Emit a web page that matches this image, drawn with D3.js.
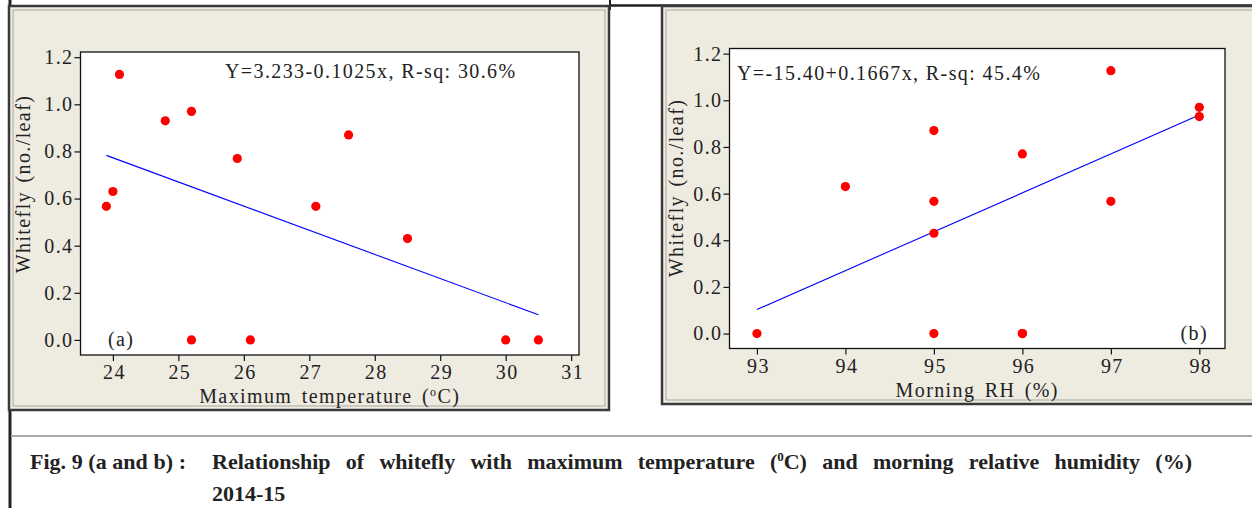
<!DOCTYPE html>
<html>
<head>
<meta charset="utf-8">
<script src="https://cdn.jsdelivr.net/npm/d3@7"></script>
<style>
  body { margin: 0; background: #fff; }
  svg text { font-family: "Liberation Serif", "Times New Roman", serif; fill: #222; }
  .chart-text { font-size: 20px; letter-spacing: 1.4px; }
</style>
</head>
<body>
<script>
// whitefly counts (no./leaf) against weather, 2014-15
var maxTemp   = [23.9, 24.0, 24.1, 24.8, 25.2, 25.2, 25.9, 26.1, 27.1, 27.6, 28.5, 30.0, 30.5];
var flyByTemp = [0.567, 0.63, 1.127, 0.93, 0.97, 0.0, 0.77, 0.0, 0.567, 0.87, 0.43, 0.0, 0.0];

var morningRH = [93, 94, 95, 95, 95, 95, 96, 96, 96, 97, 97, 98, 98];
var flyByRH   = [0.0, 0.63, 0.87, 0.567, 0.43, 0.0, 0.77, 0.0, 0.0, 1.127, 0.567, 0.97, 0.93];

var yTicks    = [0, 0.2, 0.4, 0.6, 0.8, 1.0, 1.2];
var tempTicks = [24, 25, 26, 27, 28, 29, 30, 31];
var rhTicks   = [93, 94, 95, 96, 97, 98];

// fitted lines: Y = a + b*x
var fitTemp = { a: 3.233, b: -0.1025, label: "Y=3.233-0.1025x, R-sq: 30.6%" };
var fitRH   = { a: -15.40, b: 0.1667, label: "Y=-15.40+0.1667x, R-sq: 45.4%" };

var width = 1252, height = 508;

var svg = d3.select("body").append("svg")
    .attr("width", width)
    .attr("height", height);

// table lines round the figure
svg.append("line").attr("x1", 10).attr("x2", 10).attr("y1", 0).attr("y2", height)
    .attr("stroke", "#222").attr("stroke-width", 3);
svg.append("line").attr("x1", 609).attr("x2", width).attr("y1", 5.5).attr("y2", 5.5)
    .attr("stroke", "#222").attr("stroke-width", 2.5);
svg.append("line").attr("x1", 610).attr("x2", 610).attr("y1", 0).attr("y2", 10)
    .attr("stroke", "#222").attr("stroke-width", 2);
svg.append("line").attr("x1", 11).attr("x2", width).attr("y1", 436).attr("y2", 436)
    .attr("stroke", "#aaa").attr("stroke-width", 2);

function drawPanel(p) {
    // panel frame
    svg.append("rect")
        .attr("x", p.box[0]).attr("y", p.box[1])
        .attr("width", p.box[2]).attr("height", p.box[3])
        .attr("fill", "#eeebe1")
        .attr("stroke", "#3a3a3a").attr("stroke-width", 2.5);
    svg.append("rect")
        .attr("x", p.box[0] + 4).attr("y", p.box[1] + 4)
        .attr("width", p.box[2] - 8).attr("height", p.box[3] - 8)
        .attr("fill", "none")
        .attr("stroke", "#9a9890").attr("stroke-width", 0.8);

    var x = d3.scaleLinear().domain(p.xDomain).range([p.left, p.right]);
    var y = d3.scaleLinear().domain([-0.064, 1.222]).range([p.bottom, p.top]);

    var g = svg.append("g");

    g.append("rect")
        .attr("x", p.left).attr("y", p.top)
        .attr("width", p.right - p.left).attr("height", p.bottom - p.top)
        .attr("fill", "#fff")
        .attr("stroke", "#111").attr("stroke-width", 1.3);

    var yAxis = g.append("g")
        .attr("transform", "translate(" + p.left + ",0)")
        .call(d3.axisLeft(y).tickValues(yTicks).tickFormat(d3.format(".1f")).tickSize(6).tickPadding(1));
    var xAxis = g.append("g")
        .attr("transform", "translate(0," + p.bottom + ")")
        .call(d3.axisBottom(x).tickValues(p.xTicks).tickFormat(d3.format("d")).tickSize(6).tickPadding(4));

    [yAxis, xAxis].forEach(function(ax) {
        ax.attr("font-size", null).attr("font-family", null);
        ax.select(".domain").remove();
        ax.selectAll(".tick line").attr("stroke", "#111").attr("stroke-width", 1.2);
        ax.selectAll(".tick text")
            .attr("class", "chart-text")
            .attr("fill", "#222");
    });
    xAxis.selectAll(".tick text").attr("dx", 1);

    // regression line over the observed range
    var xs = d3.extent(p.xs);
    g.append("line")
        .attr("x1", x(xs[0])).attr("y1", y(p.fit.a + p.fit.b * xs[0]))
        .attr("x2", x(xs[1])).attr("y2", y(p.fit.a + p.fit.b * xs[1]))
        .attr("stroke", "#0000ff").attr("stroke-width", 1.1);

    g.selectAll(".dot")
        .data(p.xs.map(function(v, i) { return [v, p.ys[i]]; }))
        .enter().append("circle")
        .attr("class", "dot")
        .attr("cx", function(d) { return x(d[0]); })
        .attr("cy", function(d) { return y(d[1]); })
        .attr("r", 4.6)
        .attr("fill", "#ff0000");

    g.append("text")
        .attr("class", "chart-text")
        .attr("x", p.eqX).attr("y", p.eqY)
        .text(p.fit.label);

    g.append("text")
        .attr("class", "chart-text")
        .attr("x", p.tagX).attr("y", y(0) + 6)
        .attr("text-anchor", p.tagAnchor)
        .text(p.tag);

    var xl = g.append("text")
        .attr("class", "chart-text")
        .attr("x", (p.left + p.right) / 2).attr("y", p.xLabelY)
        .attr("text-anchor", "middle")
        .style("word-spacing", "3px");
    p.xLabel(xl);

    g.append("text")
        .attr("class", "chart-text")
        .attr("transform", "translate(" + p.yLabelX + "," + p.yLabelY + ") rotate(-90)")
        .attr("text-anchor", "middle")
        .style("word-spacing", "2px")
        .text("Whitefly (no./leaf)");
}

drawPanel({
    box: [9, 6, 600, 404],
    left: 80.5, right: 579, top: 52, bottom: 355,
    xDomain: [23.505, 31.12], xTicks: tempTicks,
    xs: maxTemp, ys: flyByTemp, fit: fitTemp,
    eqX: 225, eqY: 78,
    tag: "(a)", tagX: 108, tagAnchor: "start",
    xLabelY: 403, yLabelX: 30, yLabelY: 184,
    xLabel: function(t) {
        t.append("tspan").text("Maximum temperature (");
        t.append("tspan").attr("dy", -7).style("font-size", "12px").text("o");
        t.append("tspan").attr("dy", 7).text("C)");
    }
});

drawPanel({
    box: [662, 6, 600, 398],
    left: 729.5, right: 1225, top: 48.5, bottom: 348.5,
    xDomain: [92.69, 98.29], xTicks: rhTicks,
    xs: morningRH, ys: flyByRH, fit: fitRH,
    eqX: 737, eqY: 80,
    tag: "(b)", tagX: 1208, tagAnchor: "end",
    xLabelY: 397, yLabelX: 683, yLabelY: 188,
    xLabel: function(t) { t.text("Morning RH (%)"); }
});

// caption, justified to a fixed width by widening the word gaps
function justify(text, target) {
    var words = text.text().split(" ").length - 1;
    var natural = text.node().getComputedTextLength();
    text.style("word-spacing", Math.max(0, (target - natural) / words) + "px");
}

var cap = svg.append("g").style("font-weight", "bold").style("font-size", "22px");
var capHead = cap.append("text").attr("x", 30).attr("y", 469)
    .text("Fig. 9 (a and b) :");
justify(capHead, 156);

var capLine = cap.append("text").attr("x", 212).attr("y", 469);
capLine.append("tspan").text("Relationship of whitefly with maximum temperature (");
capLine.append("tspan").attr("dy", -8).style("font-size", "13px").text("0");
capLine.append("tspan").attr("dy", 8).text("C) and morning relative humidity (%)");
justify(capLine, 980);

cap.append("text").attr("x", 212).attr("y", 501).text("2014-15");
</script>
</body>
</html>
